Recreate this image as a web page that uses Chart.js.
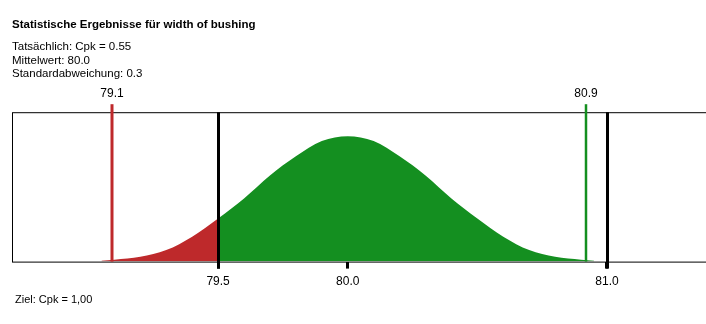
<!DOCTYPE html>
<html>
<head>
<meta charset="utf-8">
<script src="https://cdn.jsdelivr.net/npm/chart.js@4"></script>
<style>
	body { margin: 0; background: #fff; }
	canvas { display: block; }
</style>
</head>
<body>
<canvas id="cpk" width="706" height="324"></canvas>
<script>
Chart.defaults.font.family = "'Liberation Sans', Arial, sans-serif";
Chart.defaults.color = '#000';

// curve of the fitted normal distribution
const curveX = [79.05, 79.10, 79.20, 79.30, 79.40, 79.50, 79.60, 79.70, 79.80, 79.90, 80.00,
	80.10, 80.20, 80.30, 80.40, 80.50, 80.60, 80.70, 80.80, 80.90, 80.95];
const curveY = [0.01, 0.02, 0.05, 0.12, 0.26, 0.45, 0.66, 0.90, 1.10, 1.26, 1.31,
	1.26, 1.10, 0.90, 0.66, 0.45, 0.26, 0.12, 0.05, 0.02, 0.01];

const specLimits = [79.5, 81.0];      // black lines
const processLimits = [79.09, 80.92]; // mean -/+ 3 sigma (red, green)
const tickValues = [79.5, 80.0, 81.0];

const lsl = specLimits[0];
const redPts = [], greenPts = [];
for (let i = 0; i < curveX.length; i++) {
	const p = {x: curveX[i], y: curveY[i]};
	if (curveX[i] <= lsl) redPts.push(p);
	if (curveX[i] >= lsl) greenPts.push(p);
}

const RED = '#be292b';
const GREEN = '#148f20';

const limitLines = {
	id: 'limitLines',
	afterDatasetsDraw(chart) {
		const ctx = chart.ctx;
		const a = chart.chartArea;
		const xs = chart.scales.x;
		ctx.save();
		// frame
		ctx.strokeStyle = '#000';
		ctx.lineWidth = 1;
		ctx.strokeRect(a.left + 0.5, a.top + 0.5, a.right - a.left, a.bottom - a.top);
		// spec limits
		ctx.lineWidth = 3;
		specLimits.forEach(v => {
			const px = Math.round(xs.getPixelForValue(v)) + 0.5;
			ctx.beginPath();
			ctx.moveTo(px, a.top);
			ctx.lineTo(px, a.bottom + 7);
			ctx.stroke();
		});
		// process limits
		ctx.font = "12px 'Liberation Sans', Arial, sans-serif";
		ctx.textAlign = 'center';
		ctx.textBaseline = 'middle';
		processLimits.forEach((v, i) => {
			const px = Math.round(xs.getPixelForValue(v));
			ctx.strokeStyle = i === 0 ? RED : GREEN;
			ctx.lineWidth = i === 0 ? 3 : 2.5;
			ctx.beginPath();
			ctx.moveTo(px, a.top - 8);
			ctx.lineTo(px, a.bottom);
			ctx.stroke();
			ctx.fillStyle = '#000';
			ctx.fillText(v.toFixed(1), px, a.top - 19);
		});
		ctx.restore();
	},
	afterDraw(chart) {
		const ctx = chart.ctx;
		ctx.save();
		ctx.font = "11px 'Liberation Sans', Arial, sans-serif";
		ctx.fillStyle = '#000';
		ctx.textBaseline = 'middle';
		ctx.fillText('Ziel: Cpk = 1,00', 15, 300);
		ctx.restore();
	}
};

var cpk = document.getElementById('cpk').getContext('2d');
var cpkChart = new Chart(cpk, {
	type: 'line',
	data: {
		datasets: [{
			data: redPts,
			backgroundColor: RED,
			borderWidth: 0,
			pointRadius: 0,
			fill: 'origin',
			cubicInterpolationMode: 'monotone'
		}, {
			data: greenPts,
			backgroundColor: GREEN,
			borderWidth: 0,
			pointRadius: 0,
			fill: 'origin',
			cubicInterpolationMode: 'monotone'
		}]
	},
	options: {
		responsive: false,
		animation: false,
		layout: {
			padding: {left: 12, right: 0, top: 0, bottom: 29}
		},
		scales: {
			x: {
				type: 'linear',
				min: 78.705,
				max: 81.382,
				afterBuildTicks: axis => {
					axis.ticks = tickValues.map(v => ({value: v}));
				},
				ticks: {
					font: {size: 12},
					padding: 6,
					maxRotation: 0,
					callback: v => Number(v).toFixed(1)
				},
				grid: {
					drawOnChartArea: false,
					tickLength: 7,
					tickWidth: 3,
					tickColor: '#000'
				},
				border: {display: false}
			},
			y: {
				display: false,
				min: 0,
				max: 1.56
			}
		},
		plugins: {
			legend: {display: false},
			tooltip: {enabled: false},
			title: {
				display: true,
				align: 'start',
				text: 'Statistische Ergebnisse für width of bushing',
				font: {size: 11.5, weight: 'bold'},
				padding: {top: 18, bottom: 8}
			},
			subtitle: {
				display: true,
				align: 'start',
				text: ['Tatsächlich: Cpk = 0.55', 'Mittelwert: 80.0', 'Standardabweichung: 0.3'],
				font: {size: 11.5},
				lineHeight: 1.15,
				padding: {top: 0, bottom: 31}
			}
		}
	},
	plugins: [limitLines]
});
</script>
</body>
</html>
